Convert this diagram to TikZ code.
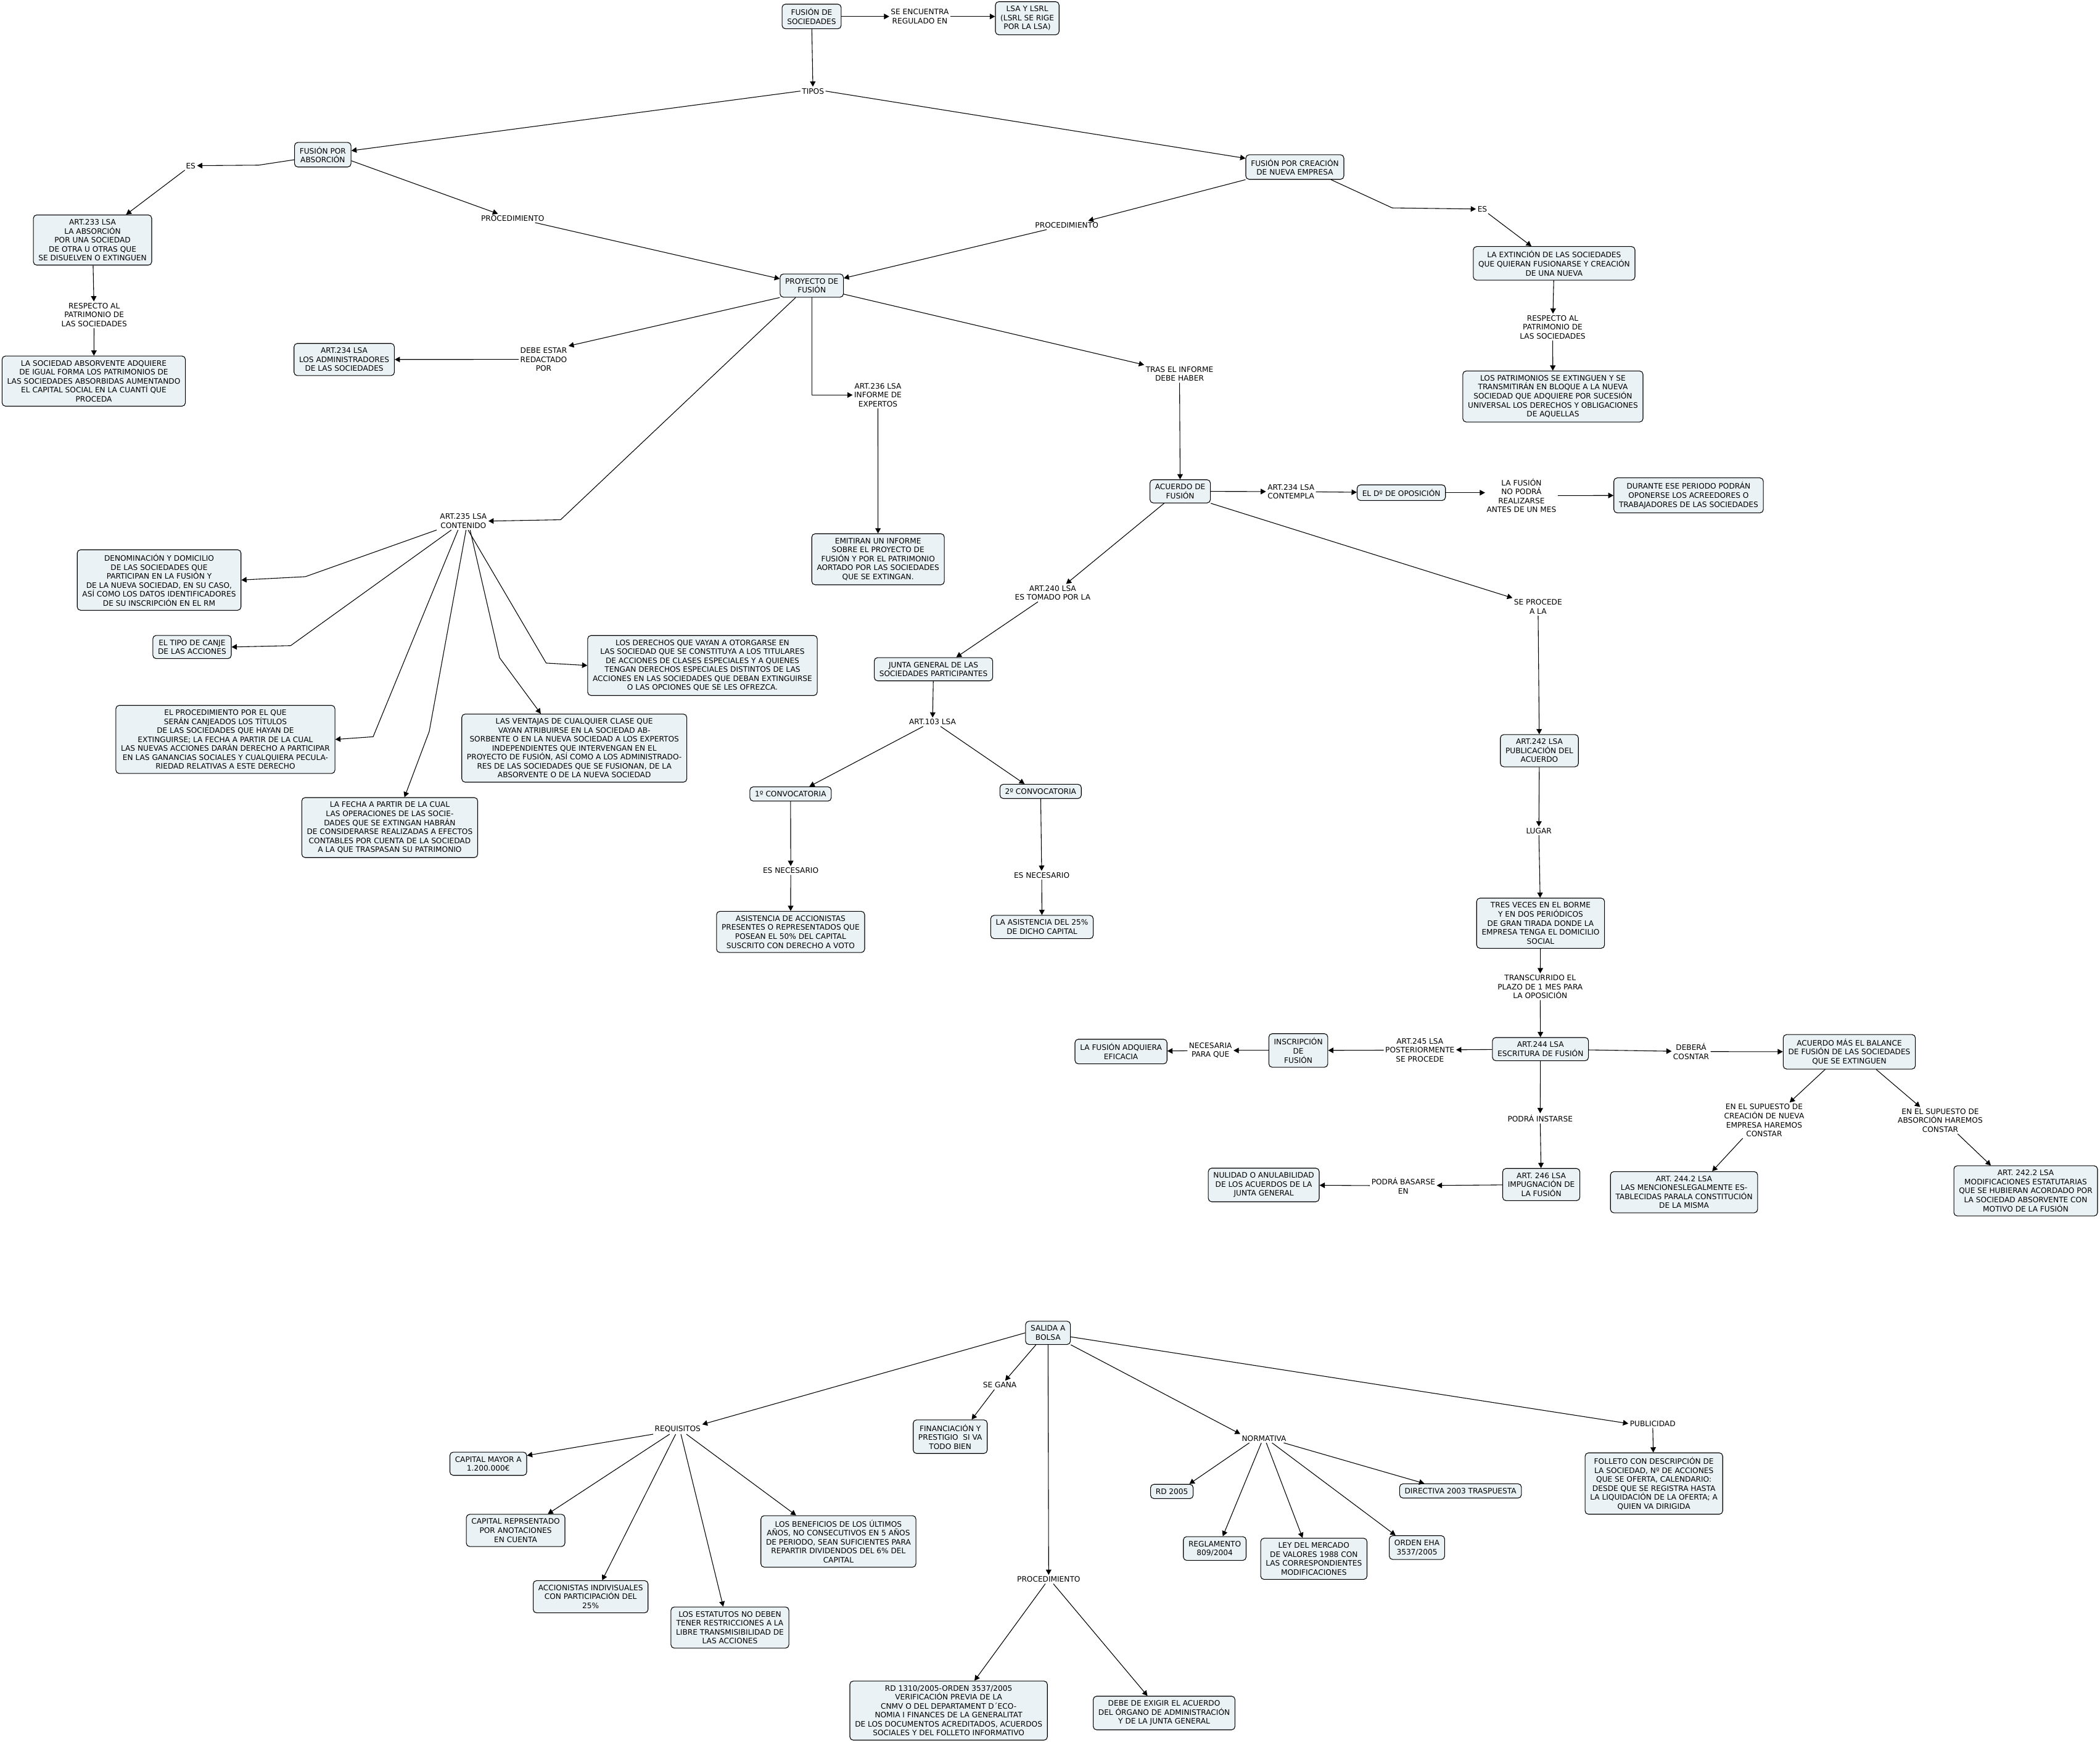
\documentclass[tikz,border=0pt]{standalone}
\usepackage{fontspec}
\setmainfont{DejaVu Sans}
\usetikzlibrary{arrows.meta}
\definecolor{boxfill}{RGB}{235,242,245}
\newcommand\mapfont{\fontsize{5.6}{6.7}\selectfont}
\tikzset{
  box/.style={draw=black, line width=0.5pt, fill=boxfill, rounded corners=2.5pt, align=center, inner xsep=3.8pt, inner ysep=3.2pt, font=\mapfont},
  lnk/.style={align=center, inner sep=1pt, font=\mapfont},
  arr/.style={-{Triangle[length=3.9pt,width=4.1pt]}, line width=0.5pt}
}
\begin{document}
\begin{tikzpicture}[x=1pt,y=-1pt]
\fill[white] (0,0) rectangle (1568,1300);
\useasboundingbox (0,0) rectangle (1568,1300);
% ---------- top ----------
\node[box] (fusion) at (606,12.3) {FUSIÓN DE\\SOCIEDADES};
\node[lnk] (regulado) at (686.8,12.3) {SE ENCUENTRA\\REGULADO EN};
\node[box] (lsa) at (767,13.6) {LSA Y LSRL\\(LSRL SE RIGE\\POR LA LSA)};
\node[lnk] (tipos) at (607,68) {TIPOS};
\node[box] (absorcion) at (241,115.5) {FUSIÓN POR\\ABSORCIÓN};
\node[box] (creacion) at (966.8,124.7) {FUSIÓN POR CREACIÓN\\DE NUEVA EMPRESA};
\node[lnk] (es1) at (142.4,123.7) {ES};
\node[box] (art233) at (69.1,179.2) {ART.233 LSA\\LA ABSORCIÓN\\POR UNA SOCIEDAD\\DE OTRA U OTRAS QUE\\SE DISUELVEN O EXTINGUEN};
\node[lnk] (respecto1) at (70.3,235) {RESPECTO AL\\PATRIMONIO DE\\LAS SOCIEDADES};
\node[box] (lasoc) at (70,284.5) {LA SOCIEDAD ABSORVENTE ADQUIERE\\DE IGUAL FORMA LOS PATRIMONIOS DE\\LAS SOCIEDADES ABSORBIDAS AUMENTANDO\\EL CAPITAL SOCIAL EN LA CUANTÍ QUE\\PROCEDA};
\node[lnk] (proc1) at (382.8,162.9) {PROCEDIMIENTO};
\node[lnk] (proc2) at (796.5,168.1) {PROCEDIMIENTO};
\node[box] (proyecto) at (606.1,213.2) {PROYECTO DE\\FUSIÓN};
\node[lnk] (es2) at (1106.8,156.1) {ES};
\node[box] (extincion) at (1160.4,196.6) {LA EXTINCIÓN DE LAS SOCIEDADES\\QUE QUIERAN FUSIONARSE Y CREACIÓN\\DE UNA NUEVA};
\node[lnk] (respecto2) at (1159.3,244.2) {RESPECTO AL\\PATRIMONIO DE\\LAS SOCIEDADES};
\node[box] (patrimonios) at (1159.5,296) {LOS PATRIMONIOS SE EXTINGUEN Y SE\\TRANSMITIRÁN EN BLOQUE A LA NUEVA\\SOCIEDAD QUE ADQUIERE POR SUCESIÓN\\UNIVERSAL LOS DERECHOS Y OBLIGACIONES\\DE AQUELLAS};
\node[lnk] (debe) at (405.9,268.3) {DEBE ESTAR\\REDACTADO\\POR};
\node[box] (art234a) at (257,268.4) {ART.234 LSA\\LOS ADMINISTRADORES\\DE LAS SOCIEDADES};
\node[lnk] (art236) at (655.5,294.9) {ART.236 LSA\\INFORME DE\\EXPERTOS};
\node[box] (emitiran) at (655.6,417.5) {EMITIRAN UN INFORME\\SOBRE EL PROYECTO DE\\FUSIÓN Y POR EL PATRIMONIO\\AORTADO POR LAS SOCIEDADES\\QUE SE EXTINGAN.};
\node[lnk] (tras) at (880.7,279) {TRAS EL INFORME\\DEBE HABER};
\node[box] (acuerdo) at (881.2,366.8) {ACUERDO DE\\FUSIÓN};
\node[lnk] (art234b) at (963.9,367) {ART.234 LSA\\CONTEMPLA};
\node[box] (dopos) at (1046.3,367.8) {EL Dº DE OPOSICIÓN};
\node[lnk] (lafusion) at (1136,370) {LA FUSIÓN\\NO PODRÁ\\REALIZARSE\\ANTES DE UN MES};
\node[box] (durante) at (1260.8,369.8) {DURANTE ESE PERIODO PODRÁN\\OPONERSE LOS ACREEDORES O\\TRABAJADORES DE LAS SOCIEDADES};
% ---------- art 235 ----------
\node[lnk] (art235) at (346,389) {ART.235 LSA\\CONTENIDO};
\node[box] (denom) at (118.8,433) {DENOMINACIÓN Y DOMICILIO\\DE LAS SOCIEDADES QUE\\PARTICIPAN EN LA FUSIÓN Y\\DE LA NUEVA SOCIEDAD, EN SU CASO,\\ASÍ COMO LOS DATOS IDENTIFICADORES\\DE SU INSCRIPCIÓN EN EL RM};
\node[box] (canje) at (143.4,483) {EL TIPO DE CANJE\\DE LAS ACCIONES};
\node[box] (derechos) at (524.5,496.8) {LOS DERECHOS QUE VAYAN A OTORGARSE EN\\LAS SOCIEDAD QUE SE CONSTITUYA A LOS TITULARES\\DE ACCIONES DE CLASES ESPECIALES Y A QUIENES\\TENGAN DERECHOS ESPECIALES DISTINTOS DE LAS\\ACCIONES EN LAS SOCIEDADES QUE DEBAN EXTINGUIRSE\\O LAS OPCIONES QUE SE LES OFREZCA.};
\node[box] (proc) at (168.3,552) {EL PROCEDIMIENTO POR EL QUE\\SERÁN CANJEADOS LOS TÍTULOS\\DE LAS SOCIEDADES QUE HAYAN DE\\EXTINGUIRSE; LA FECHA A PARTIR DE LA CUAL\\LAS NUEVAS ACCIONES DARÁN DERECHO A PARTICIPAR\\EN LAS GANANCIAS SOCIALES Y CUALQUIERA PECULA-\\RIEDAD RELATIVAS A ESTE DERECHO};
\node[box] (ventajas) at (428.8,558.5) {LAS VENTAJAS DE CUALQUIER CLASE QUE\\VAYAN ATRIBUIRSE EN LA SOCIEDAD AB-\\SORBENTE O EN LA NUEVA SOCIEDAD A LOS EXPERTOS\\INDEPENDIENTES QUE INTERVENGAN EN EL\\PROYECTO DE FUSIÓN, ASÍ COMO A LOS ADMINISTRADO-\\RES DE LAS SOCIEDADES QUE SE FUSIONAN, DE LA\\ABSORVENTE O DE LA NUEVA SOCIEDAD};
\node[box] (fecha) at (291,617.8) {LA FECHA A PARTIR DE LA CUAL\\LAS OPERACIONES DE LAS SOCIE-\\DADES QUE SE EXTINGAN HABRÁN\\DE CONSIDERARSE REALIZADAS A EFECTOS\\CONTABLES POR CUENTA DE LA SOCIEDAD\\A LA QUE TRASPASAN SU PATRIMONIO};
% ---------- junta ----------
\node[lnk] (art240) at (786,442.6) {ART.240 LSA\\ES TOMADO POR LA};
\node[box] (junta) at (697,499.6) {JUNTA GENERAL DE LAS\\SOCIEDADES PARTICIPANTES};
\node[lnk] (art103) at (696.3,539) {ART.103 LSA};
\node[box] (conv1) at (590.3,592.7) {1º CONVOCATORIA};
\node[box] (conv2) at (777,590.8) {2º CONVOCATORIA};
\node[lnk] (nec1) at (590.4,649.8) {ES NECESARIO};
\node[lnk] (nec2) at (777.8,653.4) {ES NECESARIO};
\node[box] (asist1) at (590.3,695.7) {ASISTENCIA DE ACCIONISTAS\\PRESENTES O REPRESENTADOS QUE\\POSEAN EL 50\% DEL CAPITAL\\SUSCRITO CON DERECHO A VOTO};
\node[box] (asist2) at (778,692) {LA ASISTENCIA DEL 25\%\\DE DICHO CAPITAL};
% ---------- right column ----------
\node[lnk] (procede) at (1148.4,453) {SE PROCEDE\\A LA};
\node[box] (art242) at (1149.4,560.4) {ART.242 LSA\\PUBLICACIÓN DEL\\ACUERDO};
\node[lnk] (lugar) at (1149,620.3) {LUGAR};
\node[box] (tres) at (1150.3,689.2) {TRES VECES EN EL BORME\\Y EN DOS PERIÓDICOS\\DE GRAN TIRADA DONDE LA\\EMPRESA TENGA EL DOMICILIO\\SOCIAL};
\node[lnk] (transcurrido) at (1150,736.6) {TRANSCURRIDO EL\\PLAZO DE 1 MES PARA\\LA OPOSICIÓN};
\node[box] (art244) at (1150.2,783.2) {ART.244 LSA\\ESCRITURA DE FUSIÓN};
\node[lnk] (art245) at (1060.2,783.9) {ART.245 LSA\\POSTERIORMENTE\\SE PROCEDE};
\node[box] (inscripcion) at (969.4,784.2) {INSCRIPCIÓN\\DE\\FUSIÓN};
\node[lnk] (necesaria) at (903.8,784.2) {NECESARIA\\PARA QUE};
\node[box] (eficacia) at (837,785) {LA FUSIÓN ADQUIERA\\EFICACIA};
\node[lnk] (debera) at (1262.7,785) {DEBERÁ\\COSNTAR};
\node[box] (balance) at (1380.8,785.2) {ACUERDO MÁS EL BALANCE\\DE FUSIÓN DE LAS SOCIEDADES\\QUE SE EXTINGUEN};
\node[lnk] (supuesto1) at (1317.2,836.4) {EN EL SUPUESTO DE\\CREACIÓN DE NUEVA\\EMPRESA HAREMOS\\CONSTAR};
\node[lnk] (supuesto2) at (1448.7,836.4) {EN EL SUPUESTO DE\\ABSORCIÓN HAREMOS\\CONSTAR};
\node[box] (art2442) at (1257.4,890) {ART. 244.2 LSA\\LAS MENCIONESLEGALMENTE ES-\\TABLECIDAS PARALA CONSTITUCIÓN\\DE LA MISMA};
\node[box] (art2422) at (1512.5,889) {ART. 242.2 LSA\\MODIFICACIONES ESTATUTARIAS\\QUE SE HUBIERAN ACORDADO POR\\LA SOCIEDAD ABSORVENTE CON\\MOTIVO DE LA FUSIÓN};
\node[lnk] (podra) at (1150,834.9) {PODRÁ INSTARSE};
\node[box] (art246) at (1150.8,884.3) {ART. 246 LSA\\IMPUGNACIÓN DE\\LA FUSIÓN};
\node[lnk] (basarse) at (1047.8,885.2) {PODRÁ BASARSE\\EN};
\node[box] (nulidad) at (943.6,884.6) {NULIDAD O ANULABILIDAD\\DE LOS ACUERDOS DE LA\\JUNTA GENERAL};
% ---------- bottom ----------
\node[box] (salida) at (782.5,995) {SALIDA A\\BOLSA};
\node[lnk] (requisitos) at (506,1067) {REQUISITOS};
\node[lnk] (segana) at (746.5,1034) {SE GANA};
\node[box] (financ) at (709.5,1072.5) {FINANCIACIÓN Y\\PRESTIGIO\ \ SI VA\\TODO BIEN};
\node[lnk] (proc3) at (783,1179) {PROCEDIMIENTO};
\node[lnk] (normativa) at (943.8,1073.8) {NORMATIVA};
\node[lnk] (publicidad) at (1234,1062.7) {PUBLICIDAD};
\node[box] (capital) at (364.6,1092.7) {CAPITAL MAYOR A\\1.200.000€};
\node[box] (reprs) at (385,1142.5) {CAPITAL REPRSENTADO\\POR ANOTACIONES\\EN CUENTA};
\node[box] (indiv) at (441,1192) {ACCIONISTAS INDIVISUALES\\CON PARTICIPACIÓN DEL\\25\%};
\node[box] (estatutos) at (545,1215) {LOS ESTATUTOS NO DEBEN\\TENER RESTRICCIONES A LA\\LIBRE TRANSMISIBILIDAD DE\\LAS ACCIONES};
\node[box] (beneficios) at (626,1150.7) {LOS BENEFICIOS DE LOS ÚLTIMOS\\AÑOS, NO CONSECUTIVOS EN 5 AÑOS\\DE PERIODO, SEAN SUFICIENTES PARA\\REPARTIR DIVIDENDOS DEL 6\% DEL\\CAPITAL};
\node[box] (rd2005) at (875,1113.4) {RD 2005};
\node[box] (reglamento) at (907,1156) {REGLAMENTO\\809/2004};
\node[box] (ley) at (981,1163.7) {LEY DEL MERCADO\\DE VALORES 1988 CON\\LAS CORRESPONDIENTES\\MODIFICACIONES};
\node[box] (orden) at (1058,1155.3) {ORDEN EHA\\3537/2005};
\node[box] (directiva) at (1090.5,1113) {DIRECTIVA 2003 TRASPUESTA};
\node[box] (folleto) at (1234.9,1107.5) {FOLLETO CON DESCRIPCIÓN DE\\LA SOCIEDAD, Nº DE ACCIONES\\QUE SE OFERTA, CALENDARIO:\\DESDE QUE SE REGISTRA HASTA\\LA LIQUIDACIÓN DE LA OFERTA; A\\QUIEN VA DIRIGIDA};
\node[box] (rd1310) at (708.3,1277) {RD 1310/2005-ORDEN 3537/2005\\VERIFICACIÓN PREVIA DE LA\\CNMV O DEL DEPARTAMENT D´ECO-\\NOMIA I FINANCES DE LA GENERALITAT\\DE LOS DOCUMENTOS ACREDITADOS, ACUERDOS\\SOCIALES Y DEL FOLLETO INFORMATIVO};
\node[box] (debe2) at (869.2,1278.8) {DEBE DE EXIGIR EL ACUERDO\\DEL ÓRGANO DE ADMINISTRACIÓN\\Y DE LA JUNTA GENERAL};
% ---------- connectors ----------
\draw[arr] (fusion) -- (regulado);
\draw[arr] (regulado) -- (regulado -| lsa.west);
\draw[arr] (fusion) -- (tipos);
\draw[arr] (tipos.west) -- (absorcion.8);
\draw[arr] (tipos.east) -- (creacion.170);
\draw[arr] (absorcion.190) -- (193.1,123.3) -- (es1);
\draw[arr] (es1) -- (art233);
\draw[arr] (art233) -- (respecto1);
\draw[arr] (respecto1) -- (lasoc);
\draw[arr] (absorcion.-12) -- ([xshift=-11pt]proc1.north);
\draw[arr] ([xshift=-8pt]proc1.south east) -- (proyecto.168);
\draw[arr] (creacion.south west) -- ([xshift=16pt]proc2.north);
\draw[arr] ([xshift=-15pt]proc2.south) -- (proyecto.13);
\draw[arr] ([xshift=27pt]creacion.south) -- (1039.5,155.2) -- (es2);
\draw[arr] (es2) -- (extincion);
\draw[arr] (extincion) -- (respecto2);
\draw[arr] (respecto2) -- (patrimonios);
\draw[arr] (proyecto.south west) -- (debe.north east);
\draw[arr] (debe) -- (art234a);
\draw[arr] (proyecto.south) |- (art236.west);
\draw[arr] (art236) -- (emitiran);
\draw[arr] (proyecto.-15) -- (tras.north west);
\draw[arr] (tras) -- (acuerdo);
\draw[arr] ([xshift=-12pt]proyecto.south) -- (418.6,388) -- (art235.east);
\draw[arr] ([xshift=-20pt]art235.south) -- (228,430.5) -- (denom.east);
\draw[arr] ([xshift=-9pt]art235.south) -- (217,482) -- (canje.east);
\draw[arr] ([xshift=-4pt]art235.south) -- (278.6,550) -- (proc.east);
\draw[arr] ([xshift=2pt]art235.south) -- (320.5,546) -- ([xshift=11pt]fecha.north);
\draw[arr] ([xshift=5pt]art235.south) -- (373,491) -- ([xshift=-25pt]ventajas.north);
\draw[arr] ([xshift=3.5pt]art235.south) -- (407.8,495) -- (derechos.west);
\draw[arr] (acuerdo) -- (art234b);
\draw[arr] (art234b) -- (dopos);
\draw[arr] (dopos.east) -- (dopos.east -| lafusion.west);
\draw[arr] (lafusion) -- (durante);
\draw[arr] ([xshift=-12pt]acuerdo.south) -- ([xshift=10pt]art240.north);
\draw[arr] ([xshift=-11pt]art240.south) -- ([xshift=17pt]junta.north);
\draw[arr] (junta) -- (art103);
\draw[arr] ([xshift=-7pt]art103.south) -- ([xshift=14pt]conv1.north);
\draw[arr] ([xshift=6pt]art103.south) -- ([xshift=-12pt]conv2.north);
\draw[arr] (conv1) -- (nec1);
\draw[arr] (nec1) -- (asist1);
\draw[arr] (conv2) -- (nec2);
\draw[arr] (nec2) -- (asist2);
\draw[arr] (acuerdo.south east) -- (procede.north west);
\draw[arr] (procede) -- (art242);
\draw[arr] (art242) -- (lugar);
\draw[arr] (lugar) -- (tres);
\draw[arr] (tres) -- (transcurrido);
\draw[arr] (transcurrido) -- (art244);
\draw[arr] (art244) -- (art245);
\draw[arr] (art245) -- (inscripcion);
\draw[arr] (inscripcion) -- (necesaria);
\draw[arr] (necesaria) -- (eficacia);
\draw[arr] (art244) -- (debera);
\draw[arr] (debera) -- (balance);
\draw[arr] ([xshift=-18pt]balance.south) -- ([xshift=19pt]supuesto1.north);
\draw[arr] ([xshift=-16pt]supuesto1.south) -- ([xshift=21pt]art2442.north);
\draw[arr] ([xshift=20pt]balance.south) -- ([xshift=-15pt]supuesto2.north);
\draw[arr] ([xshift=13pt]supuesto2.south) -- ([xshift=-26pt]art2422.north);
\draw[arr] (art244) -- (podra);
\draw[arr] (podra) -- (art246);
\draw[arr] (art246) -- (basarse);
\draw[arr] (basarse) -- (nulidad);
\draw[arr] (salida.west) -- (requisitos.north east);
\draw[arr] ([xshift=-9pt]salida.south) -- ([xshift=4pt]segana.north);
\draw[arr] ([xshift=-4pt]segana.south) -- ([xshift=16pt]financ.north);
\draw[arr] (salida) -- (proc3);
\draw[arr] (salida.south east) -- (normativa.north west);
\draw[arr] (salida.-10) -- (publicidad.west);
\draw[arr] (publicidad) -- (folleto);
\draw[arr] (requisitos.south west) -- (capital.12);
\draw[arr] ([xshift=-6pt]requisitos.south) -- ([xshift=24pt]reprs.north);
\draw[arr] ([xshift=-1.5pt]requisitos.south) -- ([xshift=8.6pt]indiv.north);
\draw[arr] ([xshift=2.4pt]requisitos.south) -- ([xshift=-5pt]estatutos.north);
\draw[arr] ([xshift=6.5pt]requisitos.south) -- ([xshift=-31.6pt]beneficios.north);
\draw[arr] ([xshift=-11pt]normativa.south) -- ([xshift=13pt]rd2005.north);
\draw[arr] ([xshift=-2pt]normativa.south) -- ([xshift=6pt]reglamento.north);
\draw[arr] ([xshift=1.7pt]normativa.south) -- ([xshift=-8.4pt]ley.north);
\draw[arr] ([xshift=6pt]normativa.south) -- ([xshift=-16pt]orden.north);
\draw[arr] ([xshift=14.7pt]normativa.south) -- ([xshift=-27pt]directiva.north);
\draw[arr] ([xshift=-2.5pt]proc3.south) -- ([xshift=19.3pt]rd1310.north);
\draw[arr] ([xshift=3.5pt]proc3.south) -- ([xshift=-12.4pt]debe2.north);
\end{tikzpicture}
\end{document}
